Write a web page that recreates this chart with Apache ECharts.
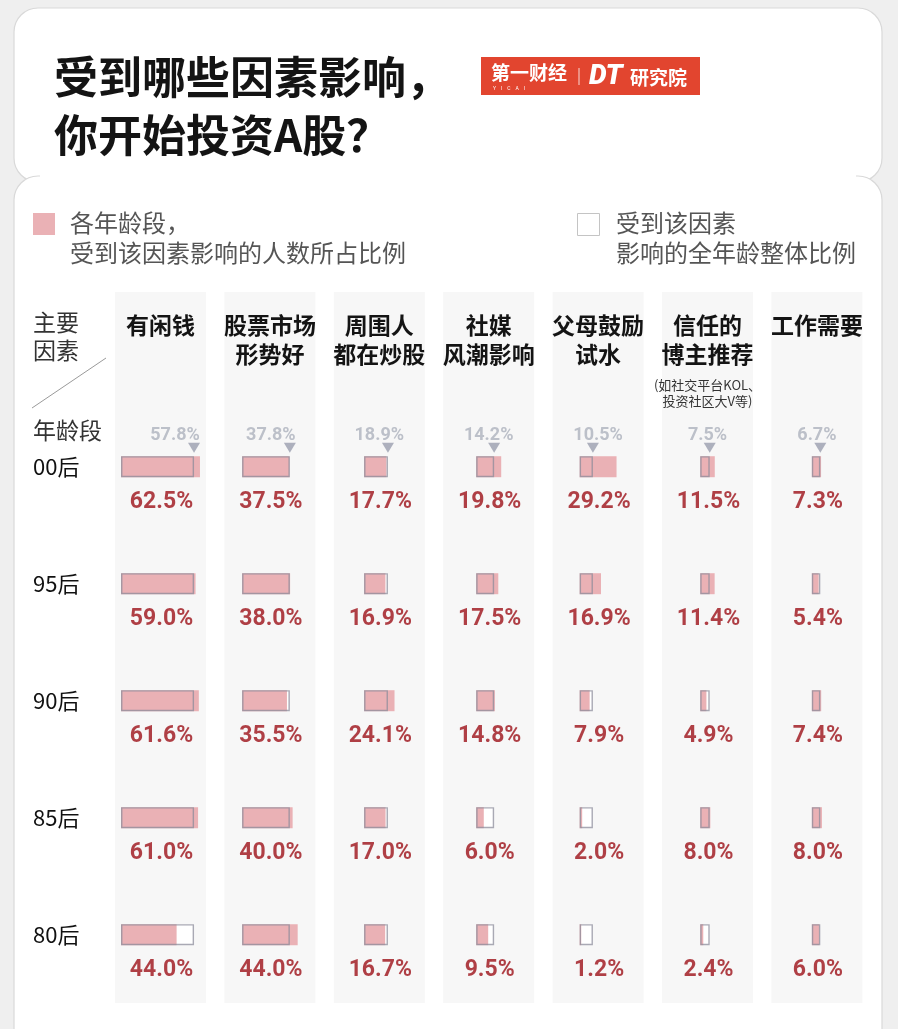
<!DOCTYPE html>
<html><head><meta charset="utf-8">
<script src="https://cdn.jsdelivr.net/npm/echarts@6/dist/echarts.min.js"></script>
<style>html,body{margin:0;padding:0;background:#efefef;}#c{width:898px;height:1029px;}</style>
</head><body><div id="c"></div>
<script>
const ages = ['00后', '95后', '90后', '85后', '80后'];
const factors = ['有闲钱', '股票市场\n形势好', '周围人\n都在炒股', '社媒\n风潮影响', '父母鼓励\n试水', '信任的\n博主推荐', '工作需要'];
const factorNote = ['', '', '', '', '', '(如社交平台KOL、\n投资社区大V等)', ''];
const overall = [57.8, 37.8, 18.9, 14.2, 10.5, 7.5, 6.7];
const v00 = [62.5, 37.5, 17.7, 19.8, 29.2, 11.5, 7.3];
const v95 = [59.0, 38.0, 16.9, 17.5, 16.9, 11.4, 5.4];
const v90 = [61.6, 35.5, 24.1, 14.8, 7.9, 4.9, 7.4];
const v85 = [61.0, 40.0, 17.0, 6.0, 2.0, 8.0, 8.0];
const v80 = [44.0, 44.0, 16.7, 9.5, 1.2, 2.4, 6.0];
const byAge = [v00, v95, v90, v85, v80];

const CJK = '"Noto Sans CJK SC", "Noto Sans", sans-serif';
const NUM = 'Roboto, "Noto Sans", sans-serif';
const K = 1.263;          // px per percent
const CX0 = 160.5, PITCH = 109.4, COLW = 91;
const GRID_TOP = 408.2, GRID_H = 585;
const PINK = '#eab1b5';

const chart = echarts.init(document.getElementById('c'), null, {renderer: 'canvas'});

const graphics = [];
// cards
graphics.push({type: 'rect', shape: {x: 14, y: 8, width: 868, height: 174, r: 24}, style: {fill: '#fff', stroke: '#d9d9d9', lineWidth: 1.2}});
graphics.push({type: 'rect', shape: {x: 14, y: 176, width: 868, height: 900, r: 24}, style: {fill: '#fff', stroke: '#d9d9d9', lineWidth: 1.2}});
graphics.push({type: 'rect', shape: {x: 40, y: 150, width: 816, height: 60}, style: {fill: '#fff'}});
// title
graphics.push({type: 'text', style: {x: 54, y: 77, text: '受到哪些因素影响，', font: 'bold 44px ' + CJK, fill: '#141414', textVerticalAlign: 'middle'}});
graphics.push({type: 'text', style: {x: 54, y: 135, text: '你开始投资A股？', font: 'bold 44px ' + CJK, fill: '#141414', textVerticalAlign: 'middle'}});
// logo
graphics.push({type: 'rect', shape: {x: 481, y: 57, width: 219, height: 38}, style: {fill: '#e2452f'}});
graphics.push({type: 'text', style: {x: 491, y: 73, text: '第一财经', font: 'bold 19px ' + CJK, fill: '#fff', textVerticalAlign: 'middle'}});
graphics.push({type: 'text', style: {x: 493, y: 89, text: 'Y    I    C    A    I', font: '5px ' + NUM, fill: '#fff', textVerticalAlign: 'middle'}});
graphics.push({type: 'line', shape: {x1: 579, y1: 68, x2: 579, y2: 85}, style: {stroke: 'rgba(255,255,255,0.8)', lineWidth: 1}});
graphics.push({type: 'text', style: {x: 589, y: 77, text: 'DT', font: 'italic 900 28px ' + NUM, fill: '#fff', textVerticalAlign: 'middle'}});
graphics.push({type: 'text', style: {x: 630, y: 78, text: '研究院', font: 'bold 19px ' + CJK, fill: '#fff', textVerticalAlign: 'middle'}});
// legend
graphics.push({type: 'rect', shape: {x: 33, y: 213, width: 22, height: 22}, style: {fill: PINK}});
graphics.push({type: 'text', style: {x: 70, y: 238, text: '各年龄段，\n受到该因素影响的人数所占比例', font: '24px ' + CJK, fill: '#555', lineHeight: 30, textVerticalAlign: 'middle'}});
graphics.push({type: 'rect', shape: {x: 577.5, y: 213.5, width: 22, height: 22}, style: {fill: '#fff', stroke: '#c4c4c4', lineWidth: 1}});
graphics.push({type: 'text', style: {x: 616, y: 238, text: '受到该因素\n影响的全年龄整体比例', font: '24px ' + CJK, fill: '#555', lineHeight: 30, textVerticalAlign: 'middle'}});
// corner header
graphics.push({type: 'text', style: {x: 33, y: 336, text: '主要\n因素', font: '23px ' + CJK, fill: '#333', lineHeight: 28, textVerticalAlign: 'middle'}});
graphics.push({type: 'line', shape: {x1: 32, y1: 408, x2: 106, y2: 358}, style: {stroke: '#9a9a9a', lineWidth: 1}});
graphics.push({type: 'text', style: {x: 33, y: 430, text: '年龄段', font: '23px ' + CJK, fill: '#333', textVerticalAlign: 'middle'}});

const grids = [], xAxes = [], yAxes = [], series = [];
factors.forEach((f, i) => {
  const cx = CX0 + i * PITCH;
  graphics.push({type: 'rect', shape: {x: cx - COLW / 2, y: 292, width: COLW, height: 711}, style: {fill: '#f7f7f7'}});
  graphics.push({type: 'text', style: {x: cx, y: 310.5, text: f, font: 'bold 23px ' + CJK, fill: '#141414', lineHeight: 29, textAlign: 'center', textVerticalAlign: 'top'}});
  if (factorNote[i]) {
    graphics.push({type: 'text', style: {x: cx, y: 377, text: factorNote[i], font: '13px ' + CJK, fill: '#333', lineHeight: 16, textAlign: 'center', textVerticalAlign: 'top'}});
  }
  const colVals = byAge.map(a => a[i]);
  const colMax = Math.max(overall[i], ...colVals);
  const left = cx - colMax * K / 2;
  grids.push({left: left, top: GRID_TOP, width: colMax * K, height: GRID_H, containLabel: false});
  xAxes.push({type: 'value', gridIndex: i, min: 0, max: colMax, show: false});
  yAxes.push({
    type: 'category', gridIndex: i, data: ages, inverse: true,
    axisLine: {show: false}, axisTick: {show: false}, splitLine: {show: false},
    axisLabel: i === 0 ? {show: true, align: 'left', margin: left - 33, fontSize: 22, fontFamily: CJK, color: '#111'} : {show: false}
  });
  const common = {type: 'bar', xAxisIndex: i, yAxisIndex: i, barWidth: 21, barGap: '-100%', silent: true, animation: false};
  series.push(Object.assign({}, common, {name: 'base' + i, z: 2, data: ages.map(() => overall[i]), itemStyle: {color: '#fff'}}));
  series.push(Object.assign({}, common, {name: 'age' + i, z: 3, data: colVals, itemStyle: {color: PINK}}));
  series.push(Object.assign({}, common, {name: 'outline' + i, z: 4, data: ages.map(() => overall[i]), itemStyle: {color: 'rgba(0,0,0,0)', borderColor: 'rgba(140,140,155,0.75)', borderWidth: 1.4}}));
  const triX = left + overall[i] * K;
  const dx = Math.max(cx - triX, -19);
  series.push({
    type: 'scatter', xAxisIndex: i, yAxisIndex: i, z: 5, silent: true, animation: false,
    data: [[overall[i], 0]], symbol: 'triangle', symbolRotate: 180, symbolSize: [12, 10], symbolOffset: [0, -19],
    itemStyle: {color: '#9a9eae'},
    label: {show: true, position: 'inside', offset: [dx, -12.5], formatter: p => p.value[0].toFixed(1) + '%', fontFamily: NUM, fontSize: 18, fontWeight: 'bold', color: '#adb1bd', align: 'center', verticalAlign: 'middle'}
  });
  series.push({
    type: 'scatter', xAxisIndex: i, yAxisIndex: i, z: 5, silent: true, animation: false,
    data: colVals.map((v, r) => [colMax / 2, r, v]), symbolSize: 1, itemStyle: {color: 'rgba(0,0,0,0)'},
    label: {show: true, position: 'inside', offset: [1, 36], formatter: p => p.value[2].toFixed(1) + '%', fontFamily: NUM, fontSize: 23, fontWeight: 'bold', color: '#9c1018', align: 'center', verticalAlign: 'middle'}
  });
});

chart.setOption({
  backgroundColor: '#efefef',
  animation: false,
  graphic: {elements: graphics},
  grid: grids, xAxis: xAxes, yAxis: yAxes, series: series
});
</script></body></html>
